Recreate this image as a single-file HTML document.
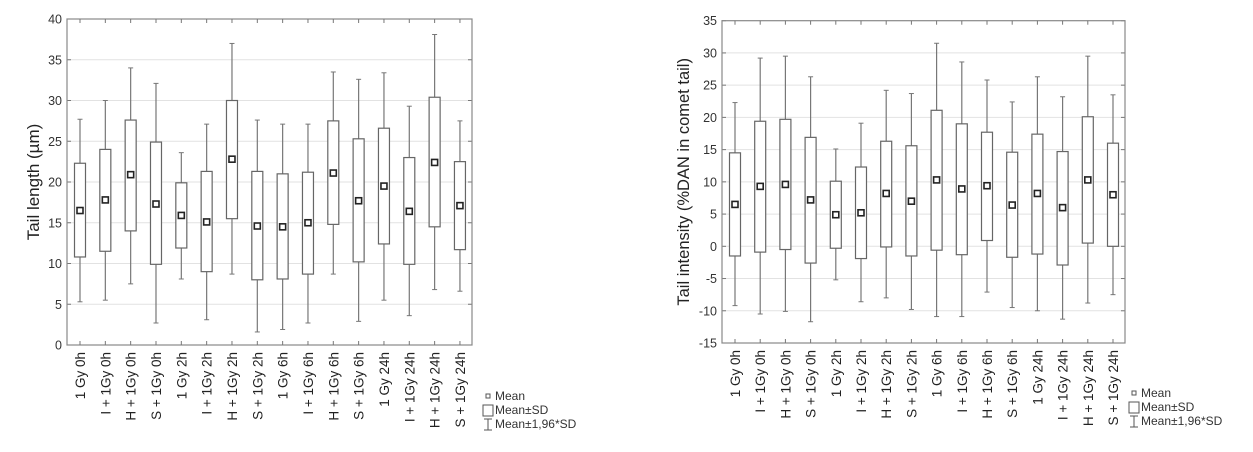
<!DOCTYPE html>
<html><head><meta charset="utf-8"><style>
html,body{margin:0;padding:0;background:#fff;}
svg{display:block;font-family:"Liberation Sans",Arial,sans-serif;}
</style></head><body>
<svg id="svg" width="1253" height="452" viewBox="0 0 1253 452"></svg>
<script>
const categories=["1 Gy 0h","I + 1Gy 0h","H + 1Gy 0h","S + 1Gy 0h","1 Gy 2h","I + 1Gy 2h","H + 1Gy 2h","S + 1Gy 2h","1 Gy 6h","I + 1Gy 6h","H + 1Gy 6h","S + 1Gy 6h","1 Gy 24h","I + 1Gy 24h","H + 1Gy 24h","S + 1Gy 24h"];
const lenMean=[16.5,17.8,20.9,17.3,15.9,15.1,22.8,14.6,14.5,15.0,21.1,17.7,19.5,16.4,22.4,17.1];
const lenSdLo=[10.8,11.5,14.0,9.9,11.9,9.0,15.5,8.0,8.1,8.7,14.8,10.2,12.4,9.9,14.5,11.7];
const lenSdHi=[22.3,24.0,27.6,24.9,19.9,21.3,30.0,21.3,21.0,21.2,27.5,25.3,26.6,23.0,30.4,22.5];
const lenCiLo=[5.3,5.5,7.5,2.7,8.1,3.1,8.7,1.6,1.9,2.7,8.7,2.9,5.5,3.6,6.8,6.6];
const lenCiHi=[27.7,30.0,34.0,32.1,23.6,27.1,37.0,27.6,27.1,27.1,33.5,32.6,33.4,29.3,38.1,27.5];
const lenTicks=[0,5,10,15,20,25,30,35,40];
const intMean=[6.5,9.3,9.6,7.2,4.9,5.2,8.2,7.0,10.3,8.9,9.4,6.4,8.2,6.0,10.3,8.0];
const intSdLo=[-1.5,-0.9,-0.5,-2.6,-0.3,-1.9,-0.1,-1.5,-0.6,-1.3,0.9,-1.7,-1.2,-2.9,0.5,0.0];
const intSdHi=[14.5,19.4,19.7,16.9,10.1,12.3,16.3,15.6,21.1,19.0,17.7,14.6,17.4,14.7,20.1,16.0];
const intCiLo=[-9.2,-10.5,-10.1,-11.7,-5.2,-8.6,-8.0,-9.8,-10.9,-10.9,-7.1,-9.5,-10.0,-11.3,-8.8,-7.5];
const intCiHi=[22.3,29.2,29.5,26.3,15.1,19.1,24.2,23.7,31.5,28.6,25.8,22.4,26.3,23.2,29.5,23.5];
const intTicks=[-15,-10,-5,0,5,10,15,20,25,30,35];

const NS="http://www.w3.org/2000/svg";
const svg=document.getElementById('svg');
function mk(tag,attrs,parent,text){const e=document.createElementNS(NS,tag);for(const k in attrs)e.setAttribute(k,attrs[k]);if(text!==undefined)e.textContent=text;(parent||svg).appendChild(e);return e;}

function chart(cfg){
  const g=mk('g',{});
  
  
  const y=v=>cfg.y1+(cfg.max-v)/(cfg.max-cfg.min)*(cfg.y0-cfg.y1);
  const x=i=>cfg.cx0+i*cfg.step;
  cfg.ticks.forEach(t=>{
    if(t!==cfg.min&&t!==cfg.max){const gl=mk('line',{x1:cfg.L,x2:cfg.R,y1:y(t),y2:y(t),stroke:'#e2e2e2','stroke-width':1},g);
      }
    const tk=mk('line',{x1:cfg.L,x2:cfg.L+4,y1:y(t),y2:y(t),stroke:'#777'},g);
    
    mk('line',{x1:cfg.R-4,x2:cfg.R,y1:y(t),y2:y(t),stroke:'#777'},g);
    const tl=mk('text',{x:cfg.L-5,y:y(t)+4.5,'text-anchor':'end','font-size':12.5,fill:'#333'},g,String(t));
    
  });
  const fr=mk('rect',{x:cfg.L,y:cfg.y1,width:cfg.R-cfg.L,height:cfg.y0-cfg.y1,fill:'none',stroke:'#888','stroke-width':1.2},g);
  
  categories.forEach((c,i)=>{
    const cx=x(i), bw=11;
    mk('line',{x1:cx,x2:cx,y1:cfg.y0,y2:cfg.y0-4,stroke:'#777'},g);
    mk('line',{x1:cx,x2:cx,y1:cfg.y1,y2:cfg.y1+4,stroke:'#777'},g);
    const w=mk('line',{x1:cx,x2:cx,y1:y(cfg.ciLo[i]),y2:y(cfg.ciHi[i]),stroke:'#777','stroke-width':1.2},g);
    
    mk('line',{x1:cx-2.5,x2:cx+2.5,y1:y(cfg.ciLo[i]),y2:y(cfg.ciLo[i]),stroke:'#777'},g);
    mk('line',{x1:cx-2.5,x2:cx+2.5,y1:y(cfg.ciHi[i]),y2:y(cfg.ciHi[i]),stroke:'#777'},g);
    const b=mk('rect',{x:cx-bw/2,y:y(cfg.sdHi[i]),width:bw,height:y(cfg.sdLo[i])-y(cfg.sdHi[i]),fill:'#fff',stroke:'#666','stroke-width':1.2},g);
    
    const m=mk('rect',{x:cx-3,y:y(cfg.mean[i])-3,width:6,height:6,fill:'#fff',stroke:'#222','stroke-width':1.6},g);
    
    const t=mk('text',{x:0,y:0,'text-anchor':'end','font-size':13.5,fill:'#222',transform:`translate(${cx+5},${cfg.y0+7}) rotate(-90)`},g,c);
    
  });
  const yt=mk('text',{x:0,y:0,'text-anchor':'middle','font-size':cfg.tfs,fill:'#222',transform:`translate(${cfg.tx},${(cfg.y0+cfg.y1)/2}) rotate(-90)`},g,cfg.title);
  
  const lg=mk('g',{},g);
  
  const lx=cfg.lx, ly=cfg.ly;
  mk('rect',{x:lx-2,y:ly-6,width:4,height:4,fill:'none',stroke:'#555'},lg);
  mk('text',{x:lx+7,y:ly,'font-size':12,fill:'#333'},lg,'Mean');
  mk('rect',{x:lx-5,y:ly+5,width:10,height:11,fill:'none',stroke:'#555'},lg);
  mk('text',{x:lx+7,y:ly+14,'font-size':12,fill:'#333'},lg,'Mean±SD');
  mk('line',{x1:lx,x2:lx,y1:ly+19,y2:ly+30,stroke:'#555'},lg);
  mk('line',{x1:lx-4,x2:lx+4,y1:ly+19,y2:ly+19,stroke:'#555'},lg);
  mk('line',{x1:lx-4,x2:lx+4,y1:ly+30,y2:ly+30,stroke:'#555'},lg);
  mk('text',{x:lx+7,y:ly+28,'font-size':12,fill:'#333'},lg,'Mean±1,96*SD');
}
chart({name:'tail-length-chart',L:67,R:472,y1:19,y0:345,min:0,max:40,ticks:lenTicks,cx0:80,step:25.33,
  mean:lenMean,sdLo:lenSdLo,sdHi:lenSdHi,ciLo:lenCiLo,ciHi:lenCiHi,title:'Tail length (µm)',tx:39,tfs:17,lx:488,ly:400});
chart({name:'tail-intensity-chart',L:722,R:1125,y1:20.7,y0:343,min:-15,max:35,ticks:intTicks,cx0:735,step:25.2,
  mean:intMean,sdLo:intSdLo,sdHi:intSdHi,ciLo:intCiLo,ciHi:intCiHi,title:'Tail intensity (%DAN in comet tail)',tx:689,tfs:16.5,lx:1134,ly:397});
</script>
</body></html>
